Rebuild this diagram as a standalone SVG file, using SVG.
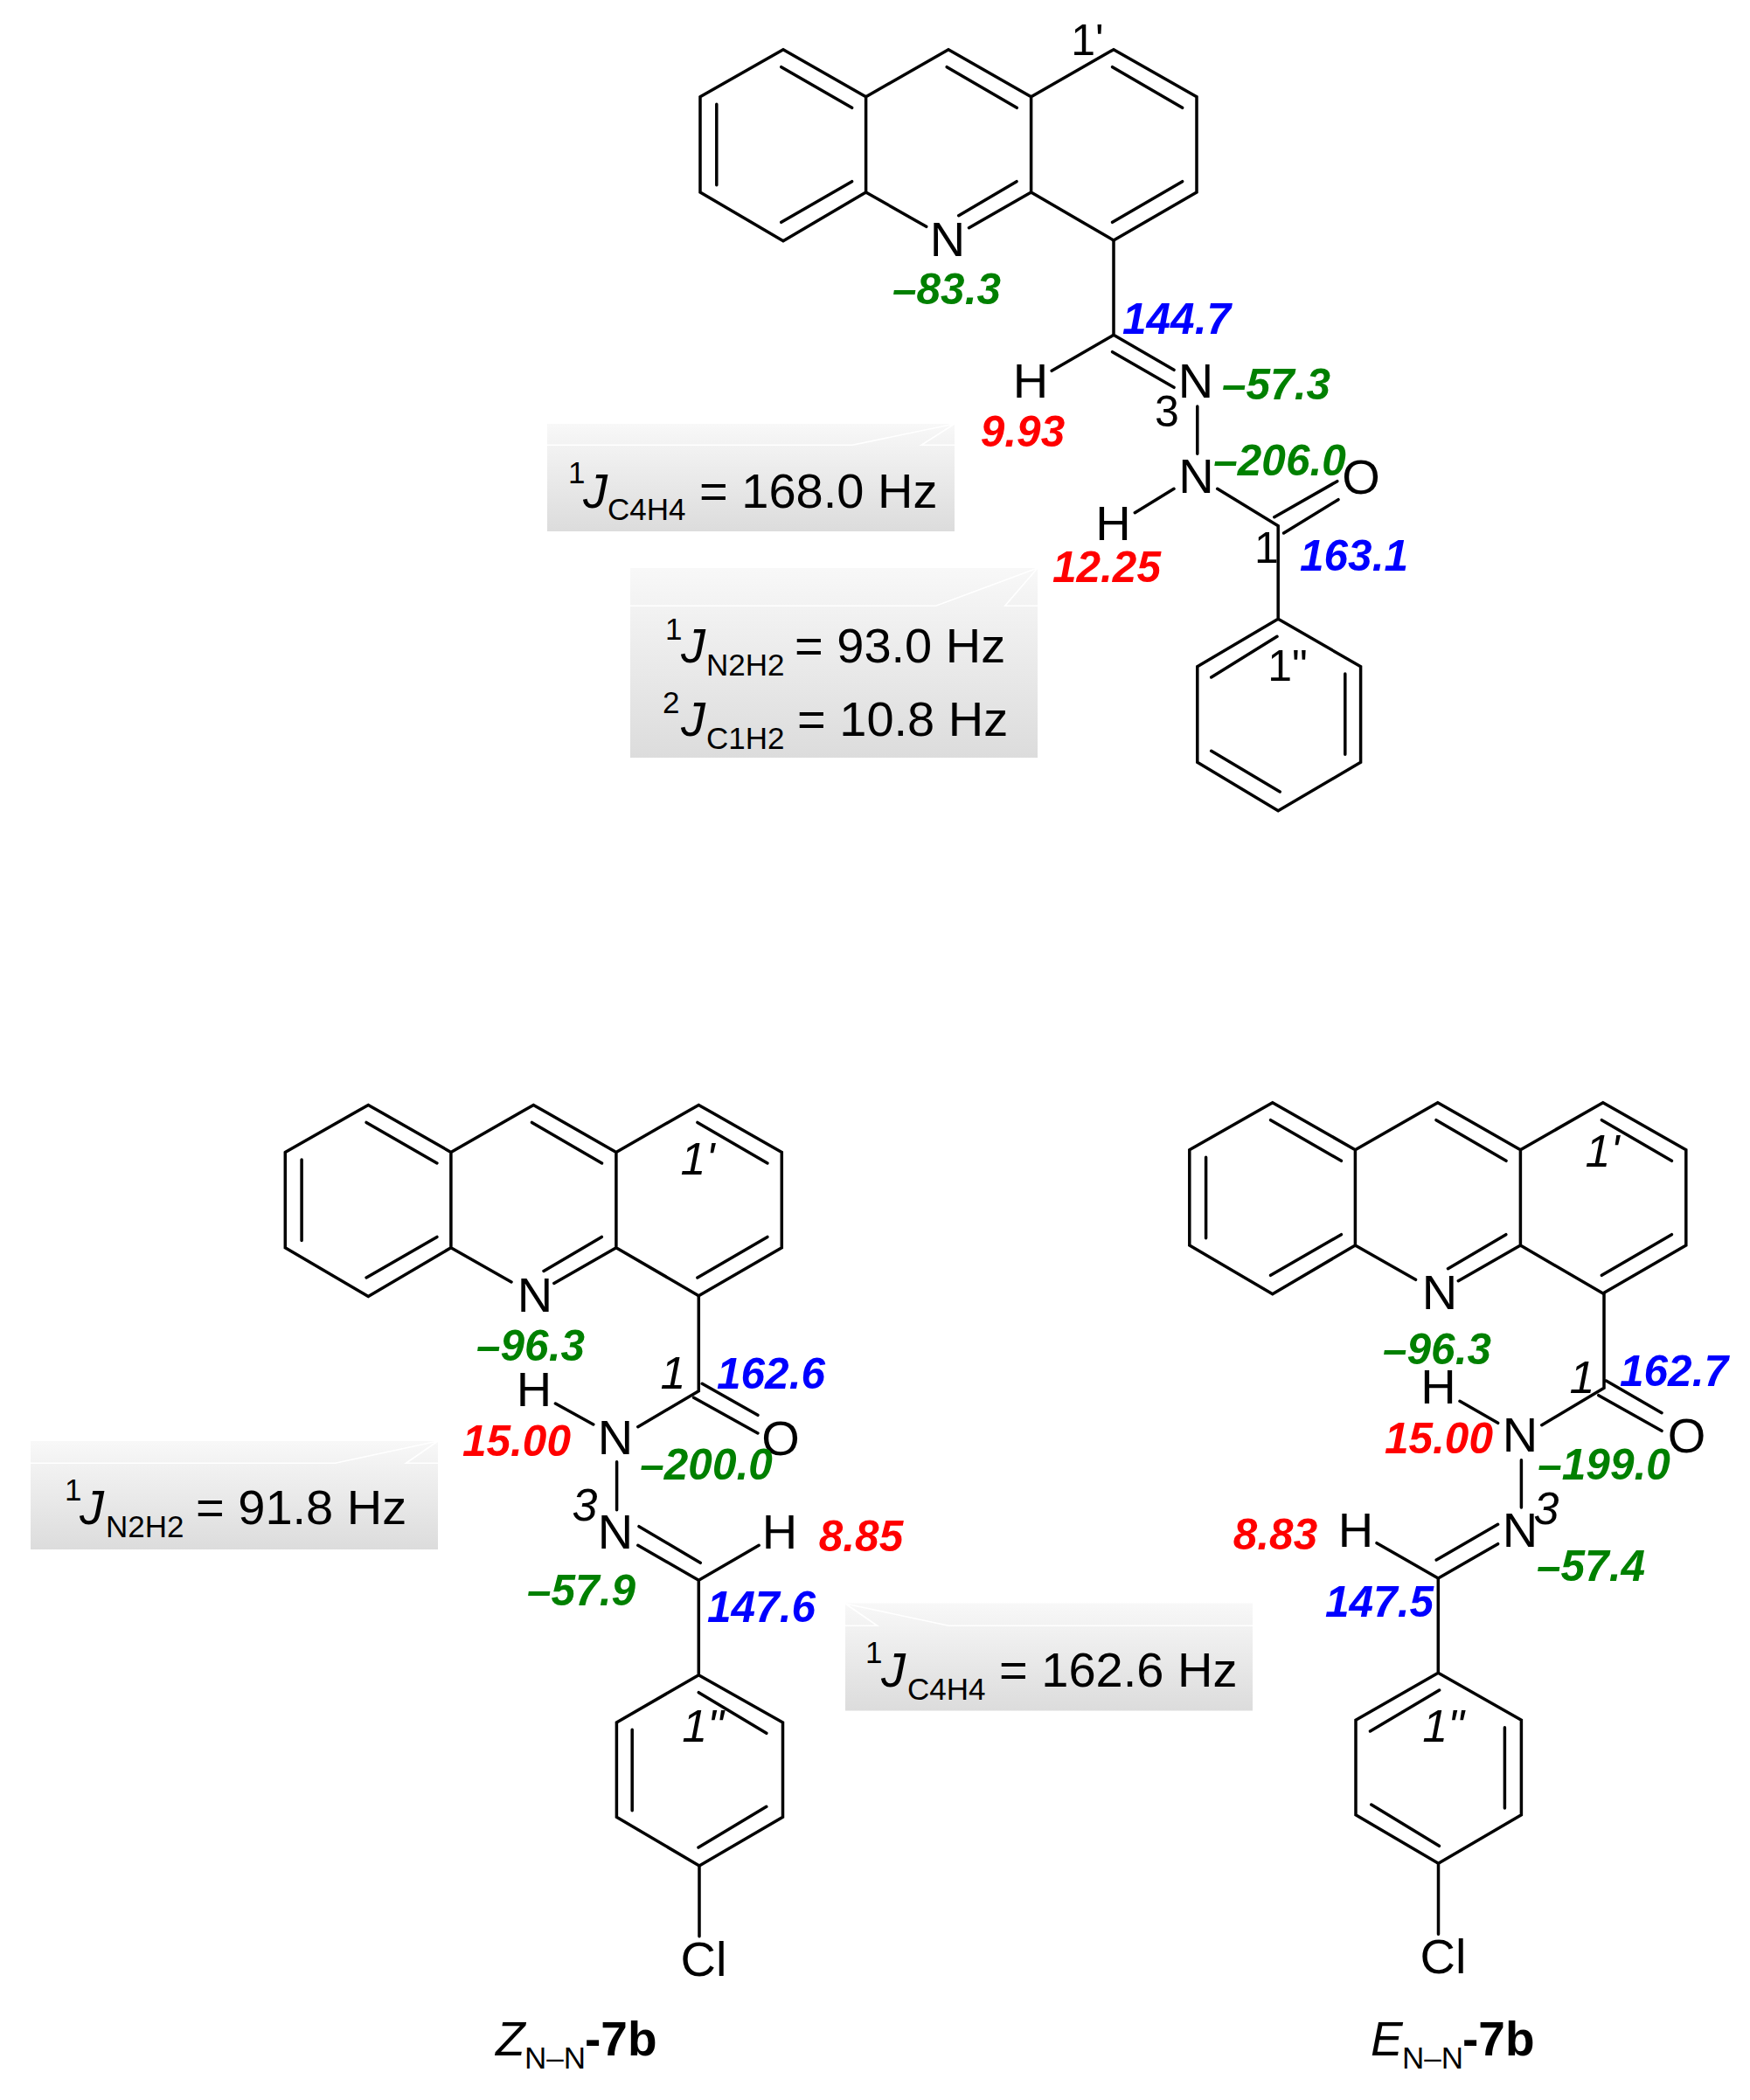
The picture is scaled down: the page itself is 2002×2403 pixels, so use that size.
<svg xmlns="http://www.w3.org/2000/svg" xmlns:xlink="http://www.w3.org/1999/xlink" width="2002" height="2403" viewBox="0 0 2002 2403">
<style>
text{font-family:"Liberation Sans",Arial,sans-serif;fill:#000}
.bond{fill:none;stroke:#000;stroke-width:3.5;stroke-linecap:round;stroke-linejoin:miter}
.atom{font-size:56px;text-anchor:middle}
.num{font-size:49.5px;font-weight:bold;font-style:italic;text-anchor:middle}
.g{fill:#008000}.b{fill:#0000ff}.r{fill:#ff0000}
.loc{font-size:50px;text-anchor:middle}
.it{font-style:italic;font-size:52px}
.j{font-size:56px}
.s{font-size:35px}
.box{fill:url(#boxg)}
.fold{fill:none;stroke:#fff;stroke-width:1.6}
.cap{font-size:55px}
</style>
<defs>
<linearGradient id="boxg" x1="0" y1="0" x2="0" y2="1"><stop offset="0" stop-color="#f8f8f8"/><stop offset="1" stop-color="#dcdcdc"/></linearGradient>
<path id="acridine" class="bond" d="M801 110.7L896 56.7L990.6 110.7L1085 56.7L1179.6 110.7L1274 56.7L1369 110.7V220L1274 275L1179.6 220V110.7M990.6 110.7V220L896 275.7L801 220V110.7M893.8 76.7L974.6 123.3M819.8 119.3V211.7M893.8 254.3L974.6 207.7M1083.2 76.7L1163.2 123.3M1272.6 76.7L1352.6 123.3M1272.6 254.3L1352.6 207.7M990.6 220L1059.7 259.3M1179.6 220L1108.5 260.7M1163 207.7L1096.7 246.7"/>
</defs>
<rect width="2002" height="2403" fill="#fff"/>

<g id="box-top-1"><rect class="box" x="626" y="485" width="466" height="123"/><path class="fold" d="M626 509.3H975L1092 485L1054 509.3H1092"/>
<text class="j"><tspan class="s" x="650" y="553">1</tspan><tspan class="it j" x="667" y="580.7">J</tspan><tspan class="s" x="695" y="595">C4H4</tspan><tspan x="800" y="580.7">= 168.0 Hz</tspan></text></g>
<g id="box-top-2"><rect class="box" x="721" y="650" width="466" height="217"/><path class="fold" d="M721 693.3H1070.7L1187 650L1149.7 693.3H1187"/>
<text class="j"><tspan class="s" x="761" y="731.7">1</tspan><tspan class="it j" x="779" y="758.3">J</tspan><tspan class="s" x="808" y="773.3">N2H2</tspan><tspan x="909" y="758.3">= 93.0 Hz</tspan></text>
<text class="j"><tspan class="s" x="758" y="815.7">2</tspan><tspan class="it j" x="779" y="842.3">J</tspan><tspan class="s" x="808" y="857.3">C1H2</tspan><tspan x="912" y="842.3">= 10.8 Hz</tspan></text></g>
<g id="box-z"><rect class="box" x="35" y="1649" width="466" height="124"/><path class="fold" d="M35 1674.3H383.5L501 1649L464.5 1674.3H501"/>
<text class="j"><tspan class="s" x="74" y="1717.3">1</tspan><tspan class="it j" x="91" y="1744">J</tspan><tspan class="s" x="121" y="1759.3">N2H2</tspan><tspan x="224" y="1744">= 91.8 Hz</tspan></text></g>
<g id="box-e"><rect class="box" x="967" y="1834.5" width="466" height="123"/><path class="fold" d="M1433 1860.3H1085.3L967 1835L1003.6 1860.3H967"/>
<text class="j"><tspan class="s" x="990" y="1903.3">1</tspan><tspan class="it j" x="1008" y="1930">J</tspan><tspan class="s" x="1038" y="1945">C4H4</tspan><tspan x="1143" y="1930">= 162.6 Hz</tspan></text></g>

<g id="connectors">
<g id="bonds-top">
<use href="#acridine"/>
<path class="bond" d="M1274 275V383.3L1203.2 424.3M1274 383.3L1343 423.3M1272.6 402.7L1343 443.3M1369.8 465V519.3M1343 559.3L1298.3 586.7M1392.7 559.3L1462.2 601.7V708.3M1457.8 591.7L1529.8 550.7M1468.6 610L1531 571.7M1462.2 708.3L1369.8 762.7V872.3L1462.2 927.7L1556.6 872.3V762.7L1462.2 708.3M1461 728.3L1385.7 775M1538.8 771V863.3M1385.7 859.3L1464.2 906"/>
</g>
<g id="bonds-z">
<use href="#acridine" transform="translate(-474.7 1207.7)"/>
<path class="bond" d="M799.3 1482.7V1591.7L729.8 1632.7M635.4 1606L678.8 1630M803.2 1583.3L866.9 1619.3M793.6 1599.3L866.9 1640M705.6 1672.7V1727.7M729.8 1768.3L799.3 1808.3L868.2 1768.3M731 1746.7L801.2 1788.3M799.3 1808.3V1916.7L705.4 1971V2079.3L800 2135L895.5 2079.3V1971L799.3 1916.7M799.3 1936.7L876.8 1983.3M723.2 1979.3V2071.7M876.8 2067.3L799 2114M800 2135V2215.7"/>
</g>
<g id="bonds-e">
<use href="#acridine" transform="translate(559.8 1205)"/>
<path class="bond" d="M1835 1480V1588.3L1763.8 1630.7M1670 1603.3L1713.6 1628.3M1837.5 1580L1901 1616.7M1828.8 1596.7L1901 1637.3M1740.4 1670.7V1725M1575 1765.7L1645.3 1806L1713.6 1766.7M1643.2 1785L1713.6 1744.3M1645.3 1806V1914.3L1551 1968.3V2076.7L1645.5 2132.3L1740.4 2076.7V1968.3L1645.3 1914.3M1646.6 1934L1567.5 1981M1721.4 1976.7V2069M1568.8 2065L1646.4 2112.3M1645.5 2132.3V2213.3"/>
</g>
</g>

<g id="mol-top">
<text class="atom" x="1084" y="292.7">N</text>
<text class="atom" x="1179" y="455">H</text>
<text class="atom" x="1368" y="455">N</text>
<text class="atom" x="1368.5" y="564.3">N</text>
<text class="atom" x="1273.5" y="617.7">H</text>
<text class="atom" x="1557" y="564.5">O</text>
<text class="loc" x="1244" y="63.3">1'</text>
<text class="loc" x="1335" y="488">3</text>
<text class="loc" x="1449" y="644.3">1</text>
<text class="loc" x="1473" y="779.3">1"</text>
<text class="num g" x="1083" y="348">–83.3</text>
<text class="num b" x="1346" y="381.7">144.7</text>
<text class="num r" x="1170" y="510.7">9.93</text>
<text class="num g" x="1460" y="457">–57.3</text>
<text class="num g" x="1464" y="544.3">–206.0</text>
<text class="num r" x="1266" y="665.7">12.25</text>
<text class="num b" x="1549" y="653.3">163.1</text>
</g>

<g id="mol-z">
<text class="atom" x="612" y="1501">N</text>
<text class="atom" x="611" y="1609.3">H</text>
<text class="atom" x="704" y="1664.3">N</text>
<text class="atom" x="893" y="1664.5">O</text>
<text class="atom" x="704" y="1772.3">N</text>
<text class="atom" x="892" y="1772.3">H</text>
<text class="atom" x="805" y="2260.7">Cl</text>
<text class="loc it" x="798" y="1344">1'</text>
<text class="loc it" x="770" y="1589.3">1</text>
<text class="loc it" x="669" y="1740">3</text>
<text class="loc it" x="804" y="1992.5">1"</text>
<text class="num g" x="607" y="1556.7">–96.3</text>
<text class="num b" x="882" y="1589.3">162.6</text>
<text class="num r" x="591" y="1666">15.00</text>
<text class="num g" x="808" y="1692.7">–200.0</text>
<text class="num r" x="985" y="1775">8.85</text>
<text class="num g" x="665" y="1836.7">–57.9</text>
<text class="num b" x="871" y="1855.7">147.6</text>
<text class="cap"><tspan class="it cap" x="567" y="2351.7">Z</tspan><tspan class="s" x="600" y="2366.7">N–N</tspan><tspan font-weight="bold" x="669" y="2351.7">-7b</tspan></text>
</g>

<g id="mol-e">
<text class="atom" x="1647" y="1498">N</text>
<text class="atom" x="1645.5" y="1606">H</text>
<text class="atom" x="1739" y="1661">N</text>
<text class="atom" x="1929.5" y="1661.7">O</text>
<text class="atom" x="1739" y="1770">N</text>
<text class="atom" x="1551" y="1770">H</text>
<text class="atom" x="1651" y="2258.3">Cl</text>
<text class="loc it" x="1833" y="1335">1'</text>
<text class="loc it" x="1810" y="1594.3">1</text>
<text class="loc it" x="1769" y="1744.3">3</text>
<text class="loc it" x="1651" y="1992.5">1"</text>
<text class="num g" x="1644" y="1561">–96.3</text>
<text class="num b" x="1915" y="1586">162.7</text>
<text class="num r" x="1646" y="1663.3">15.00</text>
<text class="num g" x="1835" y="1692.7">–199.0</text>
<text class="num r" x="1459" y="1772.7">8.83</text>
<text class="num g" x="1820" y="1809.3">–57.4</text>
<text class="num b" x="1578" y="1850">147.5</text>
<text class="cap"><tspan class="it cap" x="1568" y="2351.7">E</tspan><tspan class="s" x="1604" y="2366.7">N–N</tspan><tspan font-weight="bold" x="1673" y="2351.7">-7b</tspan></text>
</g>
</svg>
